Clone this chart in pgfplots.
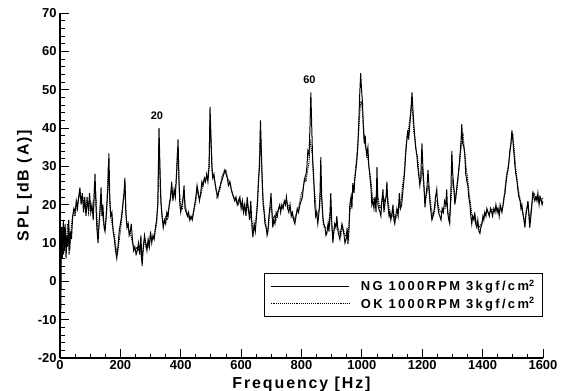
\documentclass[border=0pt]{standalone}
\usepackage{fontspec}
\setmainfont{Liberation Sans}
\newfontfamily\widefont[LetterSpace=12]{Liberation Sans}
\newfontfamily\legfont[LetterSpace=18]{Liberation Sans}
\usepackage{pgfplots}
\pgfplotsset{compat=1.18}

\begin{document}
\begin{tikzpicture}
\useasboundingbox (-60bp,-33bp) rectangle (502bp,358bp);
\begin{axis}[
  at={(0,0)}, anchor=south west,
  scale only axis, width=483bp, height=345bp,
  xmin=0, xmax=1600, ymin=-20, ymax=70,
  axis lines*=left,
  axis line style={line width=1.2pt},
  tick align=inside,
  xtick={0,200,...,1600}, minor x tick num=3,
  ytick={-20,-10,...,70}, minor y tick num=4,
  major tick length=9bp, minor tick length=4.5bp,
  every tick/.style={black, line width=0.9pt},
  /pgf/number format/assume math mode=true,
  /pgf/number format/1000 sep={},
  ticklabel style={font=\bfseries\fontsize{13}{13}\selectfont},
  xticklabel style={yshift=1bp},
  xlabel={Frequency [Hz]},
  ylabel={SPL [dB (A)]},
  label style={font=\widefont\bfseries\fontsize{16}{16}\selectfont},
  xlabel style={at={(axis description cs:0.5,0)}, anchor=base, yshift=-30.5bp},
  ylabel style={yshift=-1bp},
  legend cell align=left,
  legend image code/.code={\draw[#1] (0bp,0bp) -- (78bp,0bp);},
  legend style={at={(rel axis cs:1,0.119)}, anchor=south east,
    draw=black, line width=0.8pt,
    font=\legfont\bfseries\fontsize{13}{13}\selectfont,
    inner xsep=6bp, inner ysep=5bp, row sep=1bp, column sep=9bp,
    nodes={inner sep=2bp}},
]
\addplot[black, line width=1pt] coordinates {
(0,-18)(3,-5)(5,14)(8,6)(11,16)(14,8)(17,15)(20,6)(23,12)(26,9)(29,16)(32,8)(35,13)(38,11)
(42,17)(46,19)(50,18)(54,21)(58,19)(62,22)(66,24.5)(70,20)(74,23)(78,18)(82,22)(86,17)(90,21)
(94,19)(98,23)(102,18)(106,20)(110,16)(113,22)(116,28)(119,20)(122,14)(126,10)(130,16)(133,19)
(136,24.5)(139,17)(142,20)(146,14)(149,13)(153,17)(156,21)(159,25)(162,33.4)(165,22)(168,17)
(172,18)(176,13)(180,11)(184,8)(188,6)(192,9)(196,13)(200,15)(204,17)(208,20)(212,23)(215,27)
(218,18)(222,14)(226,15)(229,12)(233,13)(236,15)(240,11)(244,8)(248,9)(252,7)(256,8)(260,10)
(264,7)(268,12)(272,4)(276,9)(280,12)(284,10)(288,8)(292,11)(296,9)(300,13)(304,10)(308,12)
(312,11)(316,14)(320,16)(324,20)(328,40)(331,30)(334,21)(338,17)(342,14)(346,16)(350,15)
(354,18)(358,17)(362,20)(366,22)(370,26)(374,21)(378,24)(382,22)(386,28)(389,33)(391,37)
(394,27)(397,20)(400,18)(404,20)(408,22)(411,25)(414,19)(418,18)(422,17)(426,18)(430,16)
(434,17)(438,16)(442,18)(446,20)(450,22)(454,25)(458,23)(462,21)(466,23)(470,26)(474,25)
(478,27)(482,26)(486,28)(490,26)(494,30)(497,45.5)(500,38)(503,30)(506,27)(510,28)(513,26)
(517,24)(520,23)(523,22)(527,24)(531,25)(535,26)(539,27)(543,28)(546,29)(550,28)(554,27)
(558,25)(563,26)(567,24)(571,23)(575,22)(579,21)(583,22)(587,20)(591,21)(596,22)(600,19)
(604,21)(608,18)(612,20)(616,17)(620,22)(624,19)(628,16)(632,21)(636,14)(639,11.5)(643,15)
(647,13)(650,16)(654,20)(658,27)(661,30)(664,42)(667,34)(670,26)(673,20)(676,18)(679,15)
(683,14)(686,12)(689,13)(692,17)(696,20)(699,23)(702,18)(705,14)(708,16)(712,15)(716,18)
(720,17)(724,19)(728,20)(731,18)(735,20)(739,19)(743,21)(747,20)(750,22)(754,19)(758,18)
(762,20)(766,17)(770,18)(774,16)(778,15)(782,17)(786,19)(790,18)(795,20)(799,21)(803,22)
(807,25)(811,27)(815,28)(818,30)(821,34)(825,33)(828,40)(831,49.3)(834,40)(837,31.6)(840,28)
(844,20)(847,17)(850,18)(854,15)(858,18)(861,22)(864,32.4)(867,22)(871,16.7)(874,15)(878,14)
(881,12)(884,12.5)(888,15)(891,13)(894,17)(897,23)(900,16)(904,10)(907,13)(910,15)(914,14)
(917,17)(921,13)(924,12)(927,11)(930,13)(934,15)(937,14)(941,12)(944,10)(948,11)(951,14)
(954,9.8)(957,13)(960,20)(964,22)(967,19)(970,25.6)(974,23)(977,27)(980,29)(984,32)(987,36)
(990,42)(993,49)(996,54.3)(999,50)(1002,46.5)(1005,40)(1008,36)(1011,38)(1013,35)(1016,33)
(1020,35)(1023,30)(1026,28)(1030,24.5)(1033,20)(1036,21)(1040,19)(1043,22)(1047,18)(1050,29.8)
(1053,20)(1056,19)(1060,18)(1063,17)(1066,21)(1070,24)(1073,18)(1076,20)(1080,22)(1083,26)
(1086,20)(1090,17)(1093,18)(1096,16)(1100,18)(1103,20)(1106,16)(1109,15)(1112,17)(1116,19)
(1120,17)(1124,23)(1128,19)(1132,20)(1135,23)(1139,26)(1142,29)(1145,33)(1148,36)(1152,39.4)
(1155,37)(1158,40)(1162,44)(1166,49.3)(1169,45)(1172,41)(1175,38)(1178,35)(1182,33)(1185,30)
(1188,28)(1192,25)(1195,27)(1199,36)(1202,30)(1205,26)(1209,19.3)(1212,22)(1216,25)(1219,29)
(1223,24)(1226,20)(1229,18)(1232,16)(1236,17)(1240,19)(1244,22)(1248,24)(1251,20)(1254,18)
(1258,17)(1262,16)(1266,19)(1270,18)(1274,21)(1278,20)(1281,24)(1284,18)(1288,16)(1291,15)
(1295,24)(1298,34)(1301,28)(1305,24)(1308,20)(1311,22)(1315,25)(1318,27)(1322,30)(1325,33)
(1328,36)(1331,41)(1334,36)(1338,35)(1341,33)(1344,28)(1348,26)(1351,25)(1354,22)(1358,20)
(1361,17)(1364,15)(1367,17)(1371,16)(1374,18)(1377,15)(1381,14)(1384,16)(1388,13)(1391,12.5)
(1394,14)(1398,15)(1401,17)(1404,16)(1407,18)(1411,17)(1414,19)(1418,18)(1422,17)(1426,19)
(1430,18)(1433,17)(1437,19)(1441,18)(1444,20)(1448,18)(1451,19)(1455,17)(1458,20)(1461,19)
(1464,18)(1468,20)(1471,22)(1474,23)(1478,26)(1481,28)(1484,29)(1487,31)(1490,34)(1494,36)
(1497,39.4)(1500,37)(1504,33)(1507,30)(1510,28)(1514,26)(1517,23.7)(1520,22)(1524,21)(1527,19)
(1530,20)(1533,18)(1537,16)(1540,14)(1543,17)(1547,19)(1550,21)(1553,18)(1556,14)(1560,17)
(1563,20)(1566,23)(1570,22)(1573,21)(1577,22)(1580,21)(1583,23)(1587,20)(1590,22)(1594,21)
(1597,20)(1600,21)
};
\addlegendentry{NG 1000RPM 3kgf/cm\textsuperscript{2}}
\addplot[black, densely dotted, line width=1.1pt] coordinates {
(0,-15)(4,10)(8,14)(12,7)(16,12)(20,9)(25,15)(30,7)(35,12)(40,16)(45,18)(50,17)(55,20)(60,21)
(65,23)(70,21)(75,22)(80,20)(85,19)(90,22)(95,18)(100,21)(105,19)(110,18)(115,26)(120,21)
(125,12)(130,15)(135,22)(140,18)(145,15)(150,14)(155,19)(160,30)(165,20)(170,16)(175,14)
(180,12)(185,9)(190,7)(195,10)(200,13)(205,17)(210,21)(215,25)(220,16)(225,14)(230,13)
(235,12)(240,10)(245,9)(250,8)(255,9)(260,8)(265,9)(270,6)(275,8)(280,11)(285,9)(290,10)
(295,9)(300,12)(305,11)(310,11)(315,13)(320,15)(325,22)(328,37)(332,25)(336,19)(340,16)
(345,15)(350,17)(355,16)(360,19)(365,21)(370,24)(375,22)(380,23)(385,26)(390,35)(395,24)
(400,19)(405,19)(410,23)(415,20)(420,18)(425,17)(430,16)(435,17)(440,17)(445,19)(450,21)
(455,24)(460,22)(465,22)(470,24)(475,26)(480,26)(485,27)(490,27)(494,31)(497,42)(501,35)
(505,28)(510,27)(515,25)(520,22)(525,23)(530,24)(535,27)(540,28)(545,29)(550,29)(555,27)
(560,26)(565,25)(570,23)(575,22)(580,21)(585,21)(590,20)(595,21)(600,20)(605,19)(610,20)
(615,18)(620,20)(625,18)(630,17)(635,16)(640,13)(645,14)(650,17)(655,22)(660,30)(664,39)
(668,30)(672,22)(676,19)(680,16)(685,13)(690,14)(695,18)(700,20)(705,16)(710,17)(715,16)
(720,18)(725,19)(730,19)(735,19)(740,20)(745,21)(750,21)(755,20)(760,19)(765,18)(770,17)
(775,16)(780,17)(785,18)(790,19)(795,21)(800,23)(805,24)(810,27)(815,26)(820,29)(825,31)
(828,37)(832,35)(836,33)(840,26)(845,22)(850,17)(855,18)(860,19)(864,25)(868,20)(872,15)
(876,14)(880,14)(885,14)(890,15)(895,18)(900,14)(905,12)(910,14)(915,15)(920,14)(925,13)
(930,12)(935,14)(940,13)(945,12)(950,12)(955,12)(960,18)(965,21)(970,24)(975,26)(980,30)
(985,34)(990,40)(994,45)(997,47)(1000,46)(1004,42)(1008,37)(1012,35)(1016,34)(1020,32)
(1025,29)(1030,26)(1035,22)(1040,21)(1045,20)(1050,24)(1055,21)(1060,19)(1065,20)(1070,22)
(1075,21)(1080,22)(1085,22)(1090,19)(1095,17)(1100,17)(1105,18)(1110,16)(1115,17)(1120,18)
(1125,20)(1130,21)(1135,25)(1140,28)(1145,34)(1150,38)(1155,40)(1160,43)(1164,46)(1168,44)
(1172,39)(1176,37)(1180,34)(1185,32)(1190,27)(1195,26)(1200,30)(1205,25)(1210,21)(1215,23)
(1220,25)(1225,22)(1230,19)(1235,17)(1240,18)(1245,21)(1250,21)(1255,19)(1260,18)(1265,18)
(1270,19)(1275,19)(1280,21)(1285,18)(1290,17)(1295,21)(1300,27)(1305,24)(1310,21)(1315,24)
(1320,28)(1325,32)(1330,36)(1335,38)(1340,34)(1345,30)(1350,27)(1355,23)(1360,20)(1365,17)
(1370,17)(1375,17)(1380,15)(1385,15)(1390,14)(1395,15)(1400,16)(1405,17)(1410,18)(1415,18)
(1420,18)(1425,18)(1430,19)(1435,18)(1440,19)(1445,19)(1450,19)(1455,18)(1460,19)(1465,19)
(1470,21)(1475,25)(1480,28)(1485,30)(1490,33)(1495,37)(1500,38)(1505,34)(1510,29)(1515,26)
(1520,23)(1525,21)(1530,19)(1535,17)(1540,15)(1545,19)(1550,20)(1555,16)(1560,18)(1565,21)
(1570,23)(1575,22)(1580,22)(1585,21)(1590,22)(1595,21)(1600,22)
};
\addlegendentry{OK 1000RPM 3kgf/cm\textsuperscript{2}}
\node[font=\bfseries\fontsize{11}{11}\selectfont] at (axis cs:321,43.1) {20};
\node[font=\bfseries\fontsize{11}{11}\selectfont] at (axis cs:826,52.7) {60};
\end{axis}
\end{tikzpicture}
\end{document}
